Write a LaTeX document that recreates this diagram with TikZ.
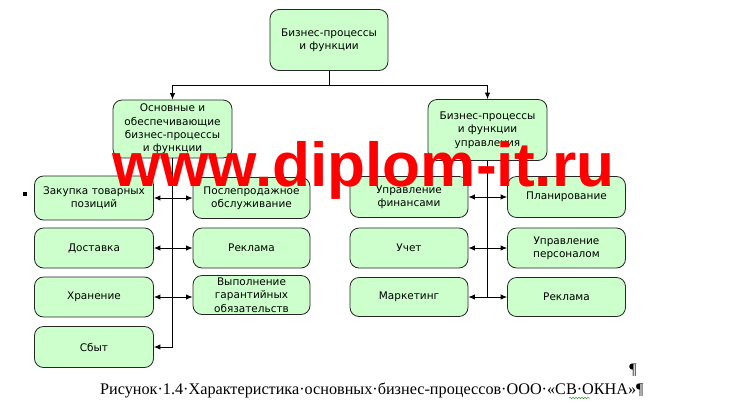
\documentclass[tikz,border=0pt]{standalone}
\usepackage{fontspec}
\setmainfont{Liberation Serif}
\newfontfamily\boxfont{DejaVu Sans}
\newfontfamily\markfont{Liberation Sans}
\usetikzlibrary{positioning,arrows.meta,decorations.pathmorphing}
\definecolor{boxgreen}{RGB}{204,255,204}
\definecolor{spellgreen}{RGB}{60,150,60}

\begin{document}
\begin{tikzpicture}[x=1pt,y=-1pt,
    box/.style={draw=black!85, fill=boxgreen, rounded corners=9pt, line width=0.8pt,
      align=center, inner sep=0pt, minimum width=118pt, minimum height=40pt,
      font=\boxfont\fontsize{10.5}{13.3}\selectfont},
    link/.style={line width=0.9pt, -{Latex[length=6.5pt,width=5.5pt]}},
    both/.style={line width=0.9pt, {Latex[length=6.5pt,width=5.5pt]}-{Latex[length=6.5pt,width=5.5pt]}}]
    \useasboundingbox (0,0) rectangle (747,416);

    % top level
    \node[box, minimum height=61pt] (top) at (329,40) {Бизнес-процессы\\и функции};
    \node[box, minimum width=119pt, minimum height=58pt] (main) at (172.5,129) {Основные и\\обеспечивающие\\бизнес-процессы\\и функции};
    \node[box, minimum width=119pt, minimum height=61pt] (mgmt) at (487.5,130) {Бизнес-процессы\\и функции\\управления};
    \coordinate (split) at (329,85);
    \draw[line width=0.9pt] (top) -- (split);
    \draw[link] (split) -| (main);
    \draw[link] (split) -| (mgmt);

    % main processes
    \node[box, minimum width=119pt, minimum height=44pt] (zakup) at (94,198) {Закупка товарных\\позиций};
    \node[box, minimum width=119pt] (dostav) at (94,248) {Доставка};
    \node[box, minimum width=119pt] (hran) at (94,297) {Хранение};
    \node[box, minimum width=119pt, minimum height=41pt] (sbyt) at (94,347) {Сбыт};
    \node[box, minimum width=117pt, minimum height=41pt] (posle) at (251.5,198) {Послепродажное\\обслуживание};
    \node[box, minimum width=117pt] (rekl) at (251.5,248) {Реклама};
    \node[box, minimum width=117pt, minimum height=39pt] (vypol) at (251.5,295) {Выполнение\\гарантийных\\обязательств};
    \draw[link] (main.south) |- (sbyt.east);
    \draw[both] (zakup.east) -- (posle.west);
    \draw[both] (dostav.east) -- (rekl.west);
    \draw[both] (hran.east) -- (hran.east -| vypol.west);

    % management
    \node[box, minimum height=41pt] (fin) at (409,197) {Управление\\финансами};
    \node[box] (uchet) at (409,248) {Учет};
    \node[box, minimum height=39pt] (market) at (409,297) {Маркетинг};
    \node[box, minimum height=41pt] (plan) at (566.5,197) {Планирование};
    \node[box] (pers) at (566.5,248) {Управление\\персоналом};
    \node[box, minimum height=39pt] (rekl2) at (566.5,297) {Реклама};
    \draw[line width=0.9pt] (mgmt.south) -- (mgmt.south |- market.east);
    \draw[both] (fin.east) -- (plan.west);
    \draw[both] (uchet.east) -- (pers.west);
    \draw[both] (market.east) -- (rekl2.west);

    % marks and caption
    \fill (23,192) rectangle (27,196);
    \node[anchor=base, font=\fontsize{16}{16}\selectfont] (para) at (633,374) {¶};
    \node[anchor=base west, inner sep=0pt, font=\fontsize{16.2}{16.2}\selectfont] (caption) at (100,394)
      {Рисунок·1.4·Характеристика·основных·бизнес-процессов·ООО·«СВ·ОКНА»¶};
    \draw[spellgreen, line width=0.5pt, decorate, decoration={snake, amplitude=0.8pt, segment length=3pt}]
      (569,398) -- (590,398);

    % watermark
    \node[anchor=base west, inner sep=0pt, text=red, font=\markfont\bfseries\fontsize{62.2}{62.2}\selectfont] (mark) at (112,186) {www.diplom-it.ru};
  \end{tikzpicture}
\end{document}
